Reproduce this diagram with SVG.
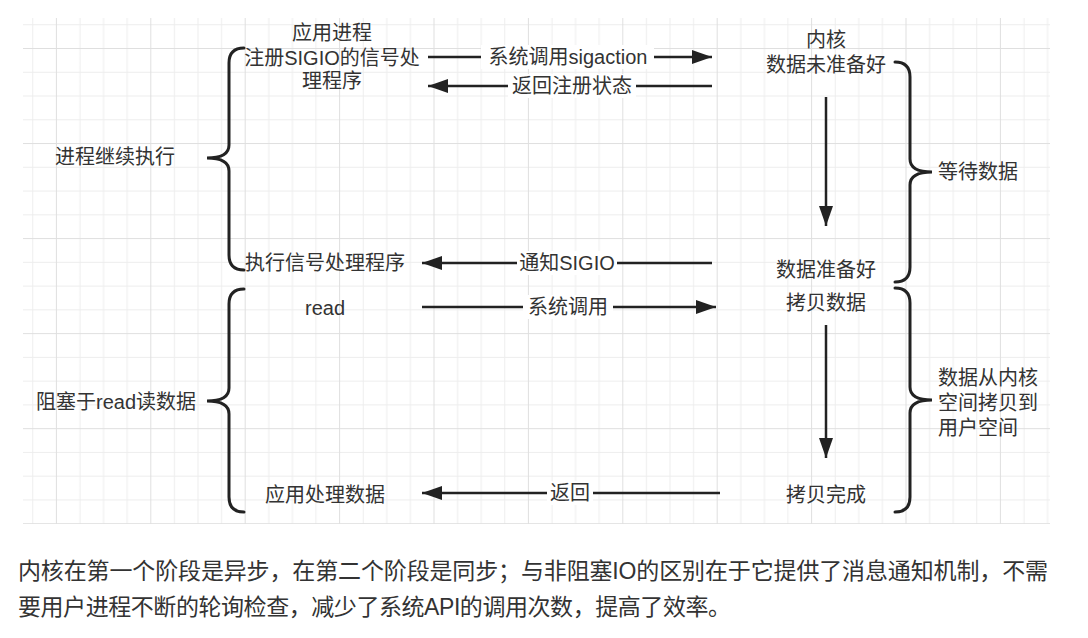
<svg xmlns="http://www.w3.org/2000/svg" width="1088" height="638" viewBox="0 0 1088 638">
<defs>
<pattern id="grid" patternUnits="userSpaceOnUse" x="150.3" y="48" width="94.4" height="95.04">
<rect x="23.6" y="0" width="1" height="95.04" fill="#ededed"/>
<rect x="47.2" y="0" width="1" height="95.04" fill="#ededed"/>
<rect x="70.8" y="0" width="1" height="95.04" fill="#ededed"/>
<rect x="0" y="23.76" width="94.4" height="1" fill="#ededed"/>
<rect x="0" y="47.52" width="94.4" height="1" fill="#ededed"/>
<rect x="0" y="71.28" width="94.4" height="1" fill="#ededed"/>
<rect x="0" y="0" width="1" height="95.04" fill="#dfdfdf"/>
<rect x="0" y="0" width="94.4" height="1" fill="#dfdfdf"/>
</pattern>
<marker id="ah" viewBox="0 0 20 14" refX="20" refY="7" markerWidth="20" markerHeight="14" markerUnits="userSpaceOnUse" orient="auto">
<path d="M0,0 L20,7 L0,14 z" fill="#222"/>
</marker>
<style>
.t{font-family:"Liberation Sans","Noto Sans CJK SC",sans-serif;font-size:20px;fill:#333;dominant-baseline:central;text-anchor:middle}
.l{text-anchor:start}
.ln{stroke:#222;stroke-width:2.5;fill:none}
.br{stroke:#222;stroke-width:3;fill:none;stroke-linecap:round}
.bg{fill:#fff}
.p{font-family:"Liberation Sans","Noto Sans CJK SC",sans-serif;font-size:23px;fill:#333;dominant-baseline:central}
</style>
</defs>
<rect width="1088" height="638" fill="#fff"/>
<rect x="23" y="18" width="1027" height="506" fill="url(#grid)"/>

<g id="connectors">
<line class="ln" x1="428" y1="57" x2="712" y2="57" marker-end="url(#ah)"/>
<rect class="bg" x="481" y="45" width="173" height="24"/>
<text class="t" x="568" y="57">系统调用sigaction</text>

<line class="ln" x1="712" y1="86" x2="428" y2="86" marker-end="url(#ah)"/>
<rect class="bg" x="508" y="74" width="128" height="24"/>
<text class="t" x="572" y="86">返回注册状态</text>

<line class="ln" x1="712" y1="263" x2="422" y2="263" marker-end="url(#ah)"/>
<rect class="bg" x="517" y="251" width="100" height="24"/>
<text class="t" x="567" y="263">通知SIGIO</text>

<line class="ln" x1="422" y1="307" x2="716" y2="307" marker-end="url(#ah)"/>
<rect class="bg" x="523" y="295" width="90" height="24"/>
<text class="t" x="568" y="307">系统调用</text>

<line class="ln" x1="720" y1="493" x2="422" y2="493" marker-end="url(#ah)"/>
<rect class="bg" x="547" y="481" width="46" height="24"/>
<text class="t" x="570" y="493">返回</text>

<line class="ln" x1="826" y1="97" x2="826" y2="226" marker-end="url(#ah)"/>
<line class="ln" x1="826" y1="325" x2="826" y2="458" marker-end="url(#ah)"/>

<path class="br" d="M244 48 Q229 48 229 63 L229 145 Q229 158 207 158 Q229 158 229 171 L229 255 Q229 270 244 270"/>
<path class="br" d="M244 289 Q229 289 229 304 L229 388 Q229 401 207 401 Q229 401 229 414 L229 497 Q229 512 244 512"/>
<path class="br" d="M895 62 Q910 62 910 77 L910 159 Q910 172 932 172 Q910 172 910 185 L910 267 Q910 282 895 282"/>
<path class="br" d="M895 288 Q910 288 910 303 L910 387 Q910 400 932 400 Q910 400 910 413 L910 497 Q910 512 895 512"/>
</g>

<g id="app-register">
<text class="t" x="332" y="33">应用进程</text>
<text class="t" x="332" y="58">注册SIGIO的信号处</text>
<text class="t" x="332" y="81">理程序</text>
</g>
<g id="kernel-notready">
<text class="t" x="826" y="40">内核</text>
<text class="t" x="826" y="65">数据未准备好</text>
</g>
<g id="continue"><text class="t" x="115" y="157">进程继续执行</text></g>
<g id="wait"><text class="t" x="978" y="172">等待数据</text></g>
<g id="handler"><text class="t l" x="245" y="263">执行信号处理程序</text></g>
<g id="ready"><text class="t" x="826" y="270">数据准备好</text></g>
<g id="read"><text class="t" x="325" y="308">read</text></g>
<g id="copy"><text class="t" x="826" y="303">拷贝数据</text></g>
<g id="block"><text class="t" x="116" y="402">阻塞于read读数据</text></g>
<g id="copy-desc">
<text class="t l" x="938" y="378">数据从内核</text>
<text class="t l" x="938" y="403">空间拷贝到</text>
<text class="t l" x="938" y="428">用户空间</text>
</g>
<g id="app-process"><text class="t" x="325" y="495">应用处理数据</text></g>
<g id="copy-done"><text class="t" x="826" y="495">拷贝完成</text></g>

<g id="caption">
<text class="p" x="18" y="571" textLength="1030" lengthAdjust="spacing">内核在第一个阶段是异步，在第二个阶段是同步；与非阻塞IO的区别在于它提供了消息通知机制，不需</text>
<text class="p" x="18" y="607" textLength="713" lengthAdjust="spacing">要用户进程不断的轮询检查，减少了系统API的调用次数，提高了效率。</text>
</g>
</svg>
